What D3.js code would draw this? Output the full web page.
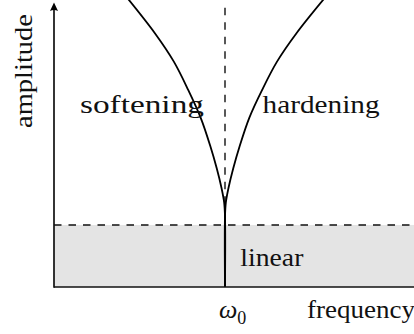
<!DOCTYPE html>
<html>
<head>
<meta charset="utf-8">
<script src="https://cdn.jsdelivr.net/npm/d3@7"></script>
<style>
  html, body { margin: 0; padding: 0; background: #fff; }
  svg { display: block; }
</style>
</head>
<body>
<svg id="chart" width="414" height="334"></svg>
<script>
// Backbone curves of a Duffing-type oscillator: frequency offset from ω0 vs. amplitude
const amplitude      = [0, 0.25, 0.30, 0.35, 0.42, 0.50, 0.60, 0.70, 0.80, 0.90, 1.03];
const softeningShift = [0, 0, 0.005, 0.020, 0.048, 0.086, 0.142, 0.216, 0.300, 0.410, 0.578];
const hardeningShift = [0, 0, 0.005, 0.020, 0.048, 0.086, 0.142, 0.218, 0.305, 0.418, 0.590];

const omega0 = 1;              // natural frequency
const linearLimit = 0.22;      // amplitude below which response is linear
const regionLabels = ["softening", "hardening", "linear"];
const axisTitles = ["frequency", "amplitude"];

const W = 414, H = 334;
const FONT = "Liberation Serif";
const svg = d3.select("#chart");

const x = d3.scaleLinear().domain([0, 2.1]).range([54, 413.1]);
const y = d3.scaleLinear().domain([0, 1]).range([287, 5]);

// Linear region shading
svg.append("rect")
  .attr("x", x(0)).attr("y", y(linearLimit))
  .attr("width", W - x(0)).attr("height", y(0) - y(linearLimit))
  .attr("fill", "#e4e4e4");

// Dashed guides: linear limit and ω0
svg.append("line")
  .attr("x1", x(0)).attr("x2", W)
  .attr("y1", y(linearLimit)).attr("y2", y(linearLimit))
  .attr("stroke", "#111").attr("stroke-width", 1.6)
  .attr("stroke-dasharray", "7.5,7");

svg.append("line")
  .attr("x1", x(omega0)).attr("x2", x(omega0))
  .attr("y1", y(0.99)).attr("y2", y(0))
  .attr("stroke", "#111").attr("stroke-width", 1.4)
  .attr("stroke-dasharray", "7.5,7");

// Backbone curves
const line = d3.line()
  .x(d => x(d[0])).y(d => y(d[1]))
  .curve(d3.curveCatmullRom.alpha(0.5));

const soft = amplitude.map((a, i) => [omega0 - softeningShift[i], a]);
const hard = amplitude.map((a, i) => [omega0 + hardeningShift[i], a]);

[soft, hard].forEach(pts => {
  svg.append("path")
    .attr("d", line(pts))
    .attr("fill", "none")
    .attr("stroke", "#000")
    .attr("stroke-width", 1.8);
});

// Axes
svg.append("line")
  .attr("x1", x(0)).attr("x2", W)
  .attr("y1", y(0)).attr("y2", y(0))
  .attr("stroke", "#111").attr("stroke-width", 1.7);

svg.append("line")
  .attr("x1", x(0)).attr("x2", x(0))
  .attr("y1", y(0) + 0.8).attr("y2", 9)
  .attr("stroke", "#111").attr("stroke-width", 1.7);

svg.append("path")
  .attr("d", `M${x(0)},2.5 L${x(0) + 4},11 Q${x(0)},9 ${x(0) - 4},11 Z`)
  .attr("fill", "#000");

function label(txt, px, py, len, anchor) {
  return svg.append("text")
    .attr("x", px).attr("y", py)
    .attr("font-family", FONT)
    .attr("font-size", 26)
    .attr("fill", "#111")
    .attr("text-anchor", anchor || "start")
    .attr("textLength", len).attr("lengthAdjust", "spacingAndGlyphs")
    .text(txt);
}

// Region labels
const labelY = y(0.617);
label(regionLabels[0], x(0.877), labelY, 124, "end");
label(regionLabels[1], x(1.22), labelY, 117);
label(regionLabels[2], x(1.09), y(0.074), 63);

// Axis titles
label(axisTitles[0], 307, 318, 108);
label(axisTitles[1], 0, 0, 114).attr("transform", "translate(32,128) rotate(-90)");

// ω0 tick label
const w0 = svg.append("text")
  .attr("x", x(omega0) - 6).attr("y", 318)
  .attr("font-family", FONT)
  .attr("fill", "#111")
  .attr("font-size", 26);
w0.append("tspan").attr("font-style", "italic").text("ω");
w0.append("tspan").attr("font-size", 18).attr("dy", 6).text("0");
</script>
</body>
</html>
